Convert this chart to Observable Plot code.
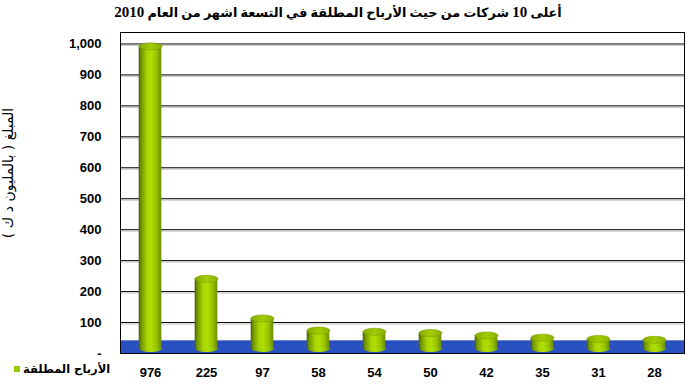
<!DOCTYPE html>
<html>
<head>
<meta charset="utf-8">
<script src="https://cdn.jsdelivr.net/npm/d3@7"></script>
<script src="https://cdn.jsdelivr.net/npm/@observablehq/plot@0.6"></script>
<style>
  html, body { margin: 0; padding: 0; background: #fff; }
  #wrap { position: relative; width: 687px; height: 385px; overflow: hidden; }
  #chart { position: absolute; left: 0; top: 0; }
  .title { position: absolute; left: 0; width: 676px; top: 4px; text-align: center; direction: rtl;
           font-family: "Liberation Serif", "DejaVu Sans", serif; font-weight: bold; font-size: 12.8px; color: #000; }
  .title .num { font-size: 15px; }
  .ylab { position: absolute; left: 8px; top: 173px; transform: translate(-50%, -50%) rotate(-90deg);
          white-space: nowrap; direction: rtl; font-family: "DejaVu Sans", sans-serif; font-size: 14px; color: #000; }
  .legend { position: absolute; left: 14px; top: 362px; display: flex; align-items: center; gap: 3px;
            font-family: "DejaVu Sans", sans-serif; font-weight: bold; font-size: 11.5px; color: #000; }
  .legend .sw { width: 6px; height: 6px; background: #99cc00; }
</style>
</head>
<body>
<div id="wrap">
  <div id="chart"></div>
  <div class="title">أعلى <span class="num">10</span> شركات من حيث الأرباح المطلقة  في التسعة اشهر من العام <span class="num">2010</span></div>
  <div class="ylab">المبلغ ( بالمليون د ك )</div>
  <div class="legend"><span class="sw"></span><span dir="rtl">الأرباح المطلقة</span></div>
</div>
<script>
const categories = ["976", "225", "97", "58", "54", "50", "42", "35", "31", "28"];
const values = [976, 225, 97, 58, 54, 50, 42, 35, 31, 28];
const yTicks = [0, 100, 200, 300, 400, 500, 600, 700, 800, 900, 1000];
const seriesName = "الأرباح المطلقة";

const data = categories.map((c, i) => ({ cat: c, value: values[i] }));

function ellipseSymbol(rx, ry) {
  const k = 0.5523;
  return {
    draw(ctx) {
      ctx.moveTo(-rx, 0);
      ctx.bezierCurveTo(-rx, -ry * k, -rx * k, -ry, 0, -ry);
      ctx.bezierCurveTo(rx * k, -ry, rx, -ry * k, rx, 0);
      ctx.bezierCurveTo(rx, ry * k, rx * k, ry, 0, ry);
      ctx.bezierCurveTo(-rx * k, ry, -rx, ry * k, -rx, 0);
      ctx.closePath();
    }
  };
}

const defs = () => {
  const d = d3.create("svg:defs");
  const g = d.append("linearGradient").attr("id", "cyl").attr("x1", 0).attr("x2", 1).attr("y1", 0).attr("y2", 0);
  [[0, "#425c00"], [0.1, "#6f9200"], [0.36, "#a6d400"], [0.55, "#b2df00"], [0.8, "#94c000"], [1, "#6a8b00"]]
    .forEach(([o, c]) => g.append("stop").attr("offset", o).attr("stop-color", c));
  const t = d.append("linearGradient").attr("id", "cyltop").attr("x1", 0).attr("x2", 1).attr("y1", 0).attr("y2", 0);
  [[0, "#86aa00"], [0.5, "#a3cc00"], [1, "#8cb000"]]
    .forEach(([o, c]) => t.append("stop").attr("offset", o).attr("stop-color", c));
  return d.node();
};

const depth = 5;
const halfW = 11.5;

const chart = Plot.plot({
  width: 687,
  height: 385,
  marginTop: 32,
  marginBottom: 32,
  marginLeft: 120,
  marginRight: 3,
  style: { background: "transparent", overflow: "visible" },
  x: { domain: categories, padding: 0, label: null },
  y: { domain: [0, 1037], label: null },
  marks: [
    defs,
    Plot.ruleY(yTicks.filter(d => d > 0), { stroke: "#c8c8c8", strokeWidth: 1, dy: 1.5 }),
    Plot.ruleY(yTicks.filter(d => d > 0), { stroke: "#000", strokeWidth: 1 }),
    Plot.ruleY([0], { stroke: "#2850c0", strokeWidth: 13, dy: -6.5 }),
    Plot.ruleY([0], { stroke: "#6f86c8", strokeWidth: 1, dy: -13 }),
    Plot.dot(data, { x: "cat", y: 0, dy: -depth, symbol: ellipseSymbol(halfW, 3.5), fill: "url(#cyl)", stroke: "none" }),
    Plot.barY(data, { x: "cat", y1: 0, y2: "value", dy: -depth, insetLeft: 16.7, insetRight: 16.7, fill: "url(#cyl)" }),
    Plot.dot(data, { x: "cat", y: "value", dy: -depth, symbol: ellipseSymbol(halfW, 3.5), fill: "url(#cyltop)", stroke: "#7d9f00", strokeWidth: 0.6 }),
    Plot.frame({ stroke: "#000", strokeWidth: 1 }),
    Plot.axisY({ ticks: yTicks, tickSize: 4, tickPadding: 15, tickFormat: d => d === 0 ? "-" : d3.format(",")(d),
      fontSize: 13, fontWeight: "bold", fontFamily: "Liberation Sans, Arial, sans-serif", stroke: null, label: null }),
    Plot.axisX({ tickSize: 0, tickPadding: 14, fontSize: 13, fontWeight: "bold", fontFamily: "Liberation Sans, Arial, sans-serif", label: null })
  ]
});
document.getElementById("chart").appendChild(chart);
</script>
</body>
</html>
